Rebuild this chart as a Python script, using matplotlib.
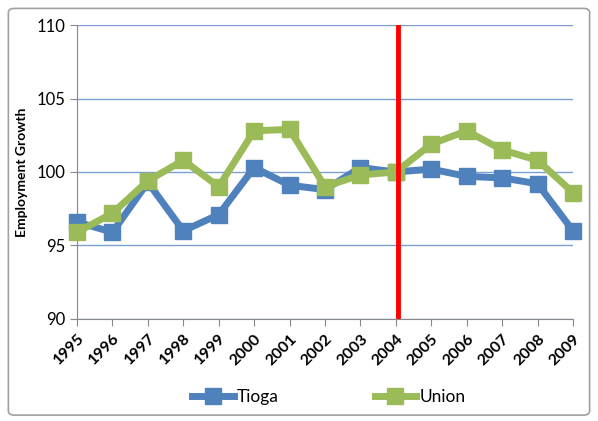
import matplotlib
matplotlib.use("Agg")
import matplotlib.pyplot as plt
from matplotlib.patches import FancyBboxPatch

plt.rcParams['font.family'] = ['Lato', 'DejaVu Sans']

# --- DADOS ---
anos = [str(a) for a in range(1995, 2010)]
tioga = [96.6, 95.9, 99.3, 96.0, 97.1, 100.3, 99.1, 98.8, 100.3, 100.0, 100.2, 99.7, 99.6, 99.2, 96.0]
union = [95.9, 97.2, 99.4, 100.8, 99.0, 102.8, 102.9, 99.0, 99.8, 100.0, 101.9, 102.8, 101.5, 100.8, 98.6]
ano_marco = 9.05  # posição da linha vermelha (2004)

fig = plt.figure(figsize=(5.98, 4.21), dpi=100)
ax = fig.add_axes([0.1288, 0.2423, 0.8294, 0.6983])

# moldura externa
moldura = FancyBboxPatch((0.014, 0.014), 0.972, 0.966, boxstyle="round,pad=0,rounding_size=0.01",
                         transform=fig.transFigure, fill=False, edgecolor='#a0a0a0', linewidth=1.2)
fig.patches.append(moldura)

x = list(range(len(anos)))
ax.plot(x, tioga, color='#4F81BD', linewidth=5, marker='s', markersize=11, label='Tioga',
        zorder=3, clip_on=False)
ax.plot(x, union, color='#9BBB59', linewidth=5, marker='s', markersize=11, label='Union',
        zorder=4, clip_on=False)
ax.axvline(ano_marco, color='#FF0000', linewidth=3.5, zorder=5)

ax.set_xlim(0, len(anos) - 1)
ax.set_ylim(90, 110)
ax.set_yticks([90, 95, 100, 105, 110])
ax.set_xticks(x)
ax.set_xticklabels(anos, rotation=45, ha='right', rotation_mode='anchor', fontweight='bold', fontsize=11.5)
ax.tick_params(axis='y', labelsize=12, length=5, color='#888888')
ax.tick_params(axis='x', length=5, color='#888888', pad=4)
ax.yaxis.grid(True, color='#7a9fd0', linewidth=1)
ax.set_axisbelow(True)
for lado in ['top', 'right']:
    ax.spines[lado].set_visible(False)
for lado in ['left', 'bottom']:
    ax.spines[lado].set_color('#888888')
ax.spines['bottom'].set_zorder(6)

ax.set_ylabel('Employment Growth', fontweight='bold', fontsize=10, labelpad=6)

fig.legend(loc='lower center', bbox_to_anchor=(0.55, 0.0), ncol=2, frameon=False,
           fontsize=12.5, handlelength=2.4, handletextpad=0.2, columnspacing=5.5, borderaxespad=0.5)

fig.savefig('out.png', dpi=100)
